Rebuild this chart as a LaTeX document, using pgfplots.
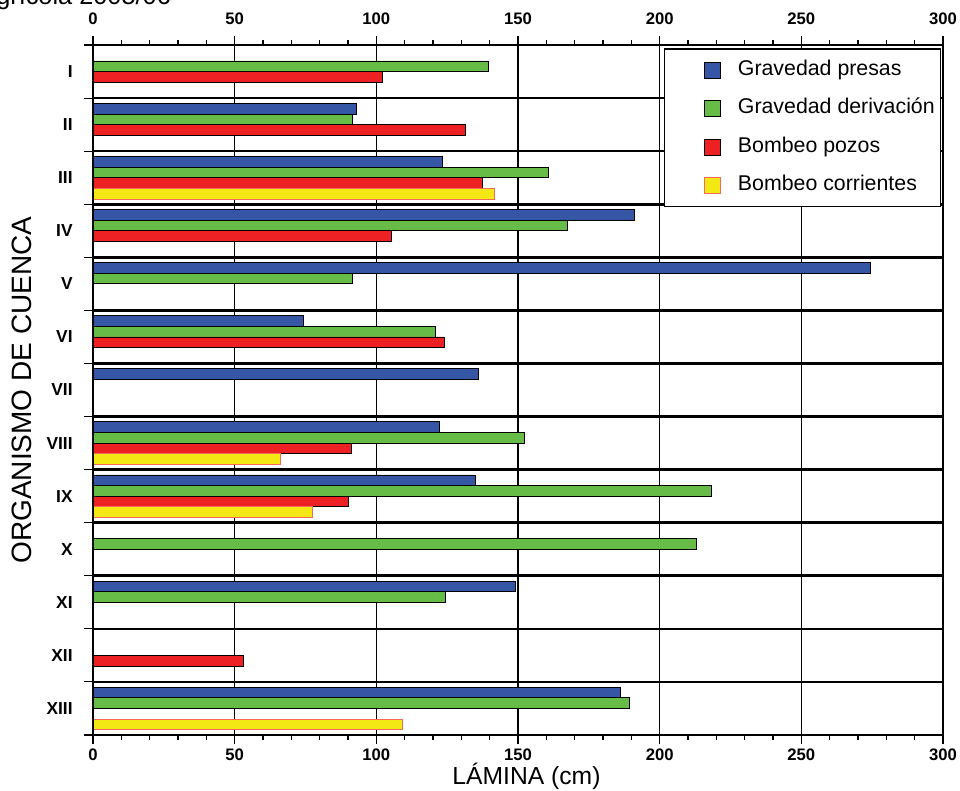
\documentclass[border=0pt]{standalone}
\usepackage{pgfplots}
\pgfplotsset{compat=1.18}
\usepackage{fontspec}
\setmainfont{Liberation Sans}
\definecolor{cblue}{HTML}{3555A5}
\definecolor{cgreen}{HTML}{67BB47}
\definecolor{cred}{HTML}{ED2024}
\definecolor{cyellow}{HTML}{F3E814}
\definecolor{cyedge}{HTML}{F36B5B}
\pgfplotsset{
  sqlegend/.style={legend image code/.code={%
    \path (0pt,0pt);
    \draw[##1, line width=0.6pt] (25.5pt,-6pt) rectangle (37.5pt,6pt);}},
  barstyle/.style={xbar, bar shift=0pt, bar width=0.2, line width=0.6pt},
}
\begin{document}
\begin{tikzpicture}
\begin{axis}[name=ax, scale only axis, width=637.5pt, height=517.5pt,
  xmin=0, xmax=300, ymin=0.5, ymax=13.5, y dir=reverse,
  xtick={0,50,...,300}, minor x tick num=4,
  tick align=outside, xtick pos=both, ytick pos=left,
  major tick length=6.75pt, minor tick length=3.5pt,
  every tick/.style={black, line width=0.8pt},
  xmajorgrids, major grid style={black, line width=0.9pt},
  ytick={1,...,13},
  yticklabels={I,II,III,IV,V,VI,VII,VIII,IX,X,XI,XII,XIII},
  ytick style={draw=none},
  extra y ticks={0.5,1.5,...,13.5}, extra y tick labels={},
  extra y tick style={grid=major, major grid style={black, line width=2pt},
    ytick style={draw=black, line width=0.8pt}},
  yticklabel style={font=\fontsize{13}{15}\selectfont\bfseries, xshift=-5pt},
  xticklabel style={font=\fontsize{12.5}{14}\selectfont\bfseries},
  /pgf/number format/assume math mode=true,
  axis line style={black, line width=0.8pt},
  xlabel={LÁMINA (cm)}, ylabel={ORGANISMO DE CUENCA},
  xlabel style={at={(axis description cs:0.51,-0.06)}, anchor=center, font=\fontsize{18.5}{22}\selectfont},
  ylabel style={at={(axis description cs:-0.0835,0.5)}, anchor=center, font=\fontsize{21}{25}\selectfont},
  legend style={at={(0.998,0.995)}, anchor=north east, draw=black, line width=0.8pt, fill=white,
    inner xsep=4.5pt, inner ysep=8.5pt, row sep=13.75pt, column sep=12.75pt,
    font=\fontsize{16}{19}\selectfont, nodes={inner sep=0pt, text height=11.5pt, text depth=3.5pt}},
  legend cell align=left,
]
\addplot[barstyle, fill=cblue, draw=black, sqlegend] coordinates {
  (93.1,1.7) (123.3,2.7) (191,3.7) (274.2,4.7) (74.2,5.7) (136,6.7)
  (122.3,7.7) (134.8,8.7) (149,10.7) (186.1,12.7)};
\addlegendentry{Gravedad presas}
\addplot[barstyle, fill=cgreen, draw=black, sqlegend] coordinates {
  (139.5,0.9) (91.5,1.9) (160.6,2.9) (167.5,3.9) (91.4,4.9) (120.8,5.9)
  (152.1,7.9) (218.2,8.9) (212.8,9.9) (124.2,10.9) (189.2,12.9)};
\addlegendentry{Gravedad derivación}
\addplot[barstyle, fill=cred, draw=black, sqlegend] coordinates {
  (102.1,1.1) (131.5,2.1) (137.4,3.1) (105.4,4.1) (124,6.1)
  (91.2,8.1) (90.3,9.1) (53.1,12.1)};
\addlegendentry{Bombeo pozos}
\addplot[barstyle, fill=cyellow, draw=cyedge, sqlegend] coordinates {
  (141.7,3.3) (66,8.3) (77.4,9.3) (109.1,13.3)};
\addlegendentry{Bombeo corrientes}
\draw[black!30, line width=1.5pt] ([xshift=-1.5pt]axis description cs:0,0) -- ([xshift=-1.5pt]axis description cs:0,1);
\draw[black, line width=0.8pt] (axis description cs:0,0) -- (axis description cs:0,1);
\end{axis}
\begin{axis}[scale only axis, width=637.5pt, height=517.5pt,
  xmin=0, xmax=300, ymin=0, ymax=1,
  axis x line*=top, hide y axis, x axis line style={draw=none},
  xtick={0,50,...,300}, xtick style={draw=none},
  xticklabel style={font=\fontsize{12.5}{14}\selectfont\bfseries, yshift=12pt},
  /pgf/number format/assume math mode=true,
]
\end{axis}
\pgfresetboundingbox
\path[use as bounding box] ([xshift=-69.75pt,yshift=-41.25pt]ax.south west) rectangle ([xshift=12.75pt,yshift=33.75pt]ax.north east);
\node[anchor=base west, font=\fontsize{19}{22}\selectfont, inner sep=0pt] at ([xshift=-72.75pt, yshift=30pt]ax.north west) {grícola 2005/06};
\end{tikzpicture}
\end{document}
